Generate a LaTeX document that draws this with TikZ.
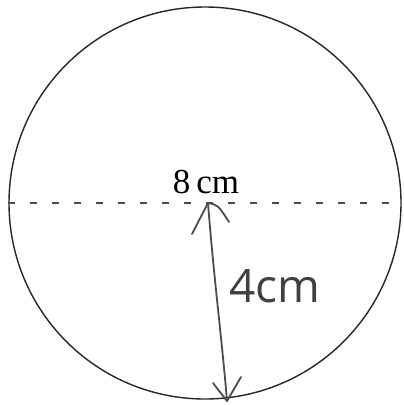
\documentclass[tikz,border=0pt]{standalone}
\usepackage{fontspec}
\setmainfont{Liberation Serif}
\newfontfamily\handfont{Open Sans}
\begin{document}
\begin{tikzpicture}[x=1pt,y=-1pt,
  outline/.style={draw=black!85,line width=1.4pt},
  diam/.style={draw=black!70,line width=1.2pt,dash pattern=on 7pt off 15pt},
  hand/.style={draw=black!70,line width=1.8pt,line cap=round,line join=round}]
\useasboundingbox[fill=white] (0,0) rectangle (404,405);
\node[outline,circle,minimum size=392pt,inner sep=0pt] (circ) at (205,203) {};
\coordinate (L) at (circ.west);
\coordinate (R) at (circ.east);
\draw[diam] (L) -- (R);
\node[anchor=base,font=\fontsize{35}{35}\selectfont,inner sep=0pt] (d) at (206,193) {8\,cm};
\coordinate (top) at (208,203);
\coordinate (bot) at (227,401);
\draw[hand] (top) .. controls (214,280) and (222,340) .. (bot);
\draw[hand] (top) -- (192,234);
\draw[hand] (top) .. controls (218,205) .. (229,222);
\draw[hand] (bot) -- (213,383);
\draw[hand] (bot) -- (241,377);
\node[anchor=base west,font=\handfont\fontsize{46}{46}\selectfont,text=black!75,inner sep=0pt] (r) at (229,302) {4cm};
\end{tikzpicture}
\end{document}
